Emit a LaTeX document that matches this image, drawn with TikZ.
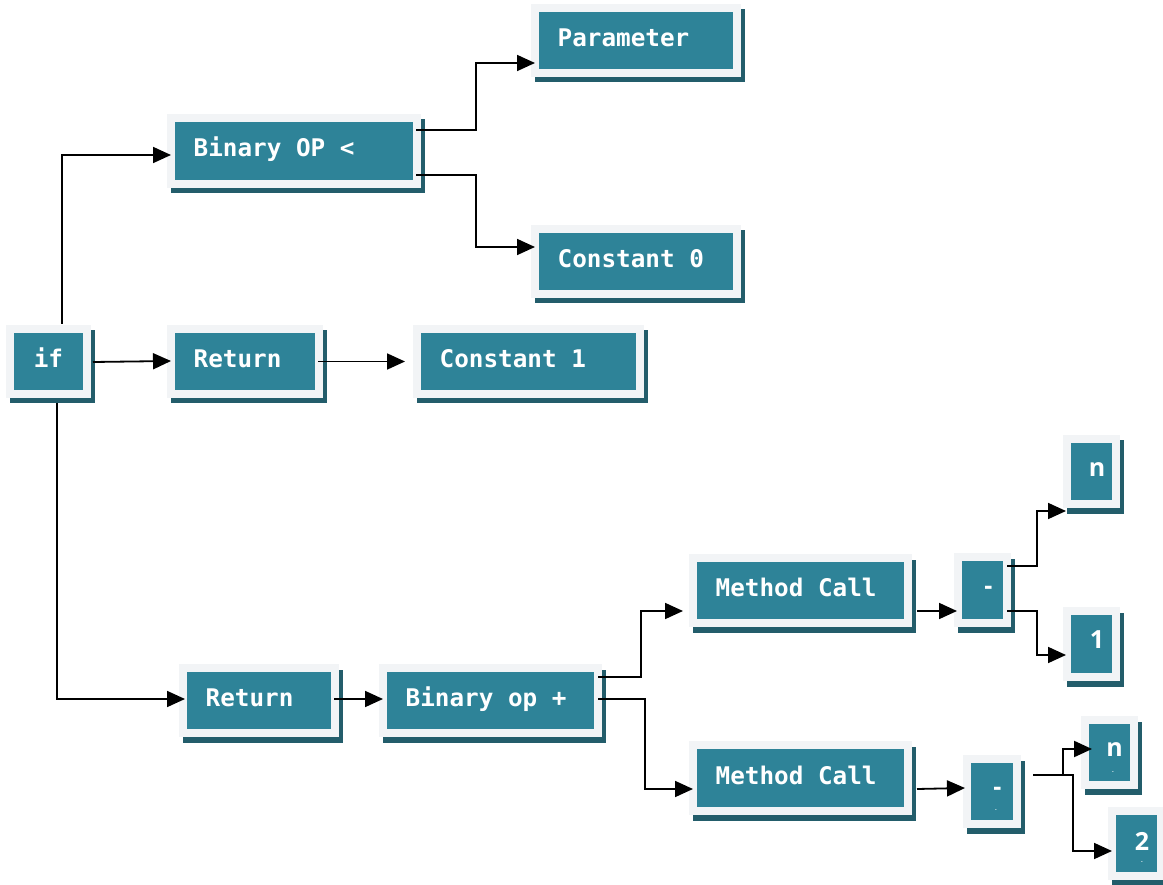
\documentclass[tikz,border=0pt]{standalone}
\usepackage{fontspec}
\setmonofont{DejaVu Sans Mono}
\newfontfamily\labsans{Open Sans}
\usetikzlibrary{arrows.meta,calc}
\definecolor{tealfill}{HTML}{2E8398}
\definecolor{tealshadow}{HTML}{235D6B}
\definecolor{framegrey}{HTML}{F2F4F6}
\tikzset{
  inbox/.style={fill=tealfill, inner sep=0pt, outer sep=0pt, draw=none},
  monolab/.style={text=white, font=\ttfamily\bfseries\fontsize{24.3}{28}\selectfont, inner sep=0pt, text height=18pt, text depth=6pt},
  sanslab/.style={text=white, font=\labsans\bfseries\fontsize{25}{30}\selectfont, inner sep=0pt},
  tinylab/.style={text=white, font=\labsans\bfseries\fontsize{5}{6}\selectfont, inner sep=0pt},
  conn/.style={draw=black, line width=1.8pt, -{Triangle[length=18pt 0 0,width=16pt 0 0]}},
}
\newcommand\astbox[5]{%
  \fill[tealshadow] ({#2-#4/2-4.5},{#3-#5/2-2.5}) rectangle ({#2+#4/2+11.5},{#3+#5/2+13.5});
  \fill[framegrey] ({#2-#4/2-8},{#3-#5/2-8}) rectangle ({#2+#4/2+8},{#3+#5/2+8});
  \node[inbox, minimum width=#4pt, minimum height=#5pt] (#1) at (#2,#3) {};
}
\begin{document}
\begin{tikzpicture}[x=1pt,y=-1pt]
\useasboundingbox[fill=white] (0,0) rectangle (1163,885);
% boxes
\astbox{param}{636}{40.5}{194}{57}
\astbox{bop}{294}{151}{238}{58}
\astbox{constz}{636}{261.5}{194}{57}
\astbox{nif}{48.5}{361.5}{69}{57}
\astbox{retA}{245}{361.5}{140}{57}
\astbox{consto}{528.5}{361.5}{215}{57}
\astbox{mcA}{800.5}{590.5}{207}{57}
\astbox{minA}{982.5}{590}{41}{58}
\astbox{nA}{1091.5}{471.5}{41}{57}
\astbox{one}{1091.5}{644}{41}{58}
\astbox{retB}{259}{700.5}{144}{57}
\astbox{bopp}{490.5}{700.5}{207}{57}
\astbox{mcB}{800.5}{778}{207}{58}
\astbox{minB}{992}{791.5}{42}{57}
\astbox{nB}{1109.5}{752.5}{41}{57}
\astbox{two}{1136.5}{843.5}{41}{57}
% labels
\node[monolab, anchor=west] (param-t) at ([shift={(18.5,0)}]param.west) {Parameter};
\node[monolab, anchor=west] (bop-t) at ([shift={(18.5,0)}]bop.west) {Binary OP <};
\node[monolab, anchor=west] (constz-t) at ([shift={(18.5,0)}]constz.west) {Constant 0};
\node[monolab] (nif-t) at (nif) {if};
\node[monolab, anchor=west] (retA-t) at ([shift={(18.5,0)}]retA.west) {Return};
\node[monolab, anchor=west] (consto-t) at ([shift={(18.5,0)}]consto.west) {Constant 1};
\node[monolab, anchor=west] (mcA-t) at ([shift={(18.5,0)}]mcA.west) {Method Call};
\node[monolab, anchor=west] (retB-t) at ([shift={(18.5,0)}]retB.west) {Return};
\node[monolab, anchor=west] (bopp-t) at ([shift={(18.5,0)}]bopp.west) {Binary op +};
\node[monolab, anchor=west] (mcB-t) at ([shift={(18.5,0)}]mcB.west) {Method Call};
\node[sanslab] (minA-t) at (988.5,590.6) {-};
\node[sanslab] (nA-t) at (1097,470) {n};
\node[sanslab] (one-t) at (1097,640) {1};
\node[sanslab] (nB-t) at (1114.5,750) {n};
\node[sanslab] (minB-t) at (997.5,791.6) {-};
\node[sanslab] (two-t) at (1142,841.5) {2};
\node[tinylab] (nB-s) at (1113,772.5) {-};
\node[tinylab] (minB-s) at (996,810.5) {-};
\node[tinylab] (two-s) at (1142,862.5) {-};
% connectors
\draw[conn] ([shift={(13.5,-9)}]nif.north) |- ([shift={(-4,4)}]bop.west);
\draw[conn] ([shift={(10,0.5)}]nif.east) -- ([shift={(-4,-0.5)}]retA.west);
\draw[conn] ([shift={(3,0)}]retA.east) -- ([shift={(-16,0)}]consto.west);
\draw[conn] ([shift={(8.5,13)}]nif.south) |- ([shift={(-2,-1.5)}]retB.west);
\draw[conn] ([shift={(3,-21)}]bop.east) -- ++(60,0) |- ([shift={(-4,22.5)}]param.west);
\draw[conn] ([shift={(3,24)}]bop.east) -- ++(60,0) |- ([shift={(-4,-14.5)}]constz.west);
\draw[conn] ([shift={(3,-1.5)}]retB.east) -- ([shift={(-4,-1.5)}]bopp.west);
\draw[conn] ([shift={(4,-23.5)}]bopp.east) -- ++(43,0) |- ([shift={(-14,20.5)}]mcA.west);
\draw[conn] ([shift={(4,-1.5)}]bopp.east) -- ++(47,0) |- ([shift={(-4,11)}]mcB.west);
\draw[conn] ([shift={(13,20.5)}]mcA.east) -- ([shift={(-5,21)}]minA.west);
\draw[conn] ([shift={(13,11)}]mcB.east) -- ([shift={(-6,-3.5)}]minB.west);
\draw[conn] ([shift={(4,-24)}]minA.east) -- ++(30,0) |- ([shift={(-5,39.5)}]nA.west);
\draw[conn] ([shift={(4,21)}]minA.east) -- ++(30,0) |- ([shift={(-5,11)}]one.west);
\draw[conn, line width=2.2pt] ([shift={(20,-16.5)}]minB.east) -- ++(30,0) |- ([shift={(3,-3.5)}]nB.west);
\draw[conn] ([shift={(20,-16.5)}]minB.east) -- ++(40,0) |- ([shift={(-4,7.5)}]two.west);
\end{tikzpicture}
\end{document}
